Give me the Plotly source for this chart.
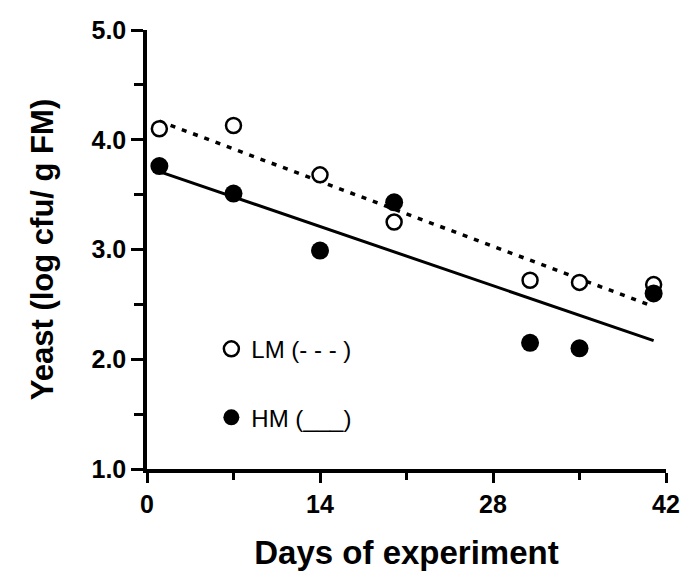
import plotly.graph_objects as go

# ---- data ----
days = [1, 7, 14, 20, 31, 35, 41]
lm_values = [4.10, 4.13, 3.68, 3.25, 2.72, 2.70, 2.68]
hm_values = [3.76, 3.51, 2.99, 3.43, 2.15, 2.10, 2.60]

fit_days = [1, 41]
lm_fit = [4.17, 2.48]
hm_fit = [3.71, 2.17]

x_ticks = [0, 14, 28, 42]
y_ticks = [1.0, 2.0, 3.0, 4.0, 5.0]
y_tick_labels = ["1.0", "2.0", "3.0", "4.0", "5.0"]

lm_label = "LM (- - - )"
hm_label = "HM (___)"

FONT = "Liberation Sans, Arial, sans-serif"

fig = go.Figure()

# regression lines
fig.add_trace(go.Scatter(
    x=fit_days, y=lm_fit, mode="lines", showlegend=False,
    line=dict(color="black", width=3.5, dash="5px,7px"),
    hoverinfo="skip"))
fig.add_trace(go.Scatter(
    x=fit_days, y=hm_fit, mode="lines", showlegend=False,
    line=dict(color="black", width=3),
    hoverinfo="skip"))

# points
fig.add_trace(go.Scatter(
    x=days, y=lm_values, mode="markers", name=lm_label, legend="legend",
    marker=dict(symbol="circle", size=15, color="white",
                line=dict(color="black", width=2.5))))
fig.add_trace(go.Scatter(
    x=days, y=hm_values, mode="markers", name=hm_label, legend="legend2",
    marker=dict(symbol="circle", size=18, color="black",
                line=dict(color="black", width=0))))

axis_common = dict(
    showline=True, linecolor="black", linewidth=3.5,
    showgrid=False, zeroline=False,
    ticks="outside", tickcolor="black", tickwidth=3,
    automargin=False,
)

fig.update_xaxes(
    range=[0, 42], tickvals=x_ticks, ticktext=[str(v) for v in x_ticks],
    ticklen=10,
    tickfont=dict(family=FONT, size=25, color="black", weight="bold"),
    minor=dict(dtick=7, tick0=0, ticks="outside", ticklen=7, tickwidth=3,
               tickcolor="black"),
    title=dict(text="Days of experiment", standoff=29,
               font=dict(family=FONT, size=33, color="black", weight="bold")),
    **axis_common)

fig.update_yaxes(
    range=[1, 5], tickvals=y_ticks, ticktext=y_tick_labels,
    ticklen=12,
    tickfont=dict(family=FONT, size=25, color="black", weight="bold"),
    minor=dict(dtick=0.5, tick0=1, ticks="outside", ticklen=9, tickwidth=3,
               tickcolor="black"),
    title=dict(text="Yeast (log cfu/ g FM)", standoff=30,
               font=dict(family=FONT, size=31, color="black", weight="bold")),
    **axis_common)

legend_font = dict(family=FONT, size=24, color="black")
fig.update_layout(
    width=682, height=571,
    margin=dict(l=147, r=16, t=30, b=102),
    paper_bgcolor="white", plot_bgcolor="white",
    showlegend=True,
    legend=dict(x=0.124, y=0.324, xanchor="left", yanchor="top",
                font=legend_font, bgcolor="rgba(0,0,0,0)", borderwidth=0),
    legend2=dict(x=0.124, y=0.168, xanchor="left", yanchor="top",
                 font=legend_font, bgcolor="rgba(0,0,0,0)", borderwidth=0),
)

# remove the default 8px page margin so the figure fills the window exactly
fig.write_html(
    "out.html",
    config={"displayModeBar": False},
    post_script="document.body.style.margin='0';"
                "document.body.style.overflow='hidden';")
